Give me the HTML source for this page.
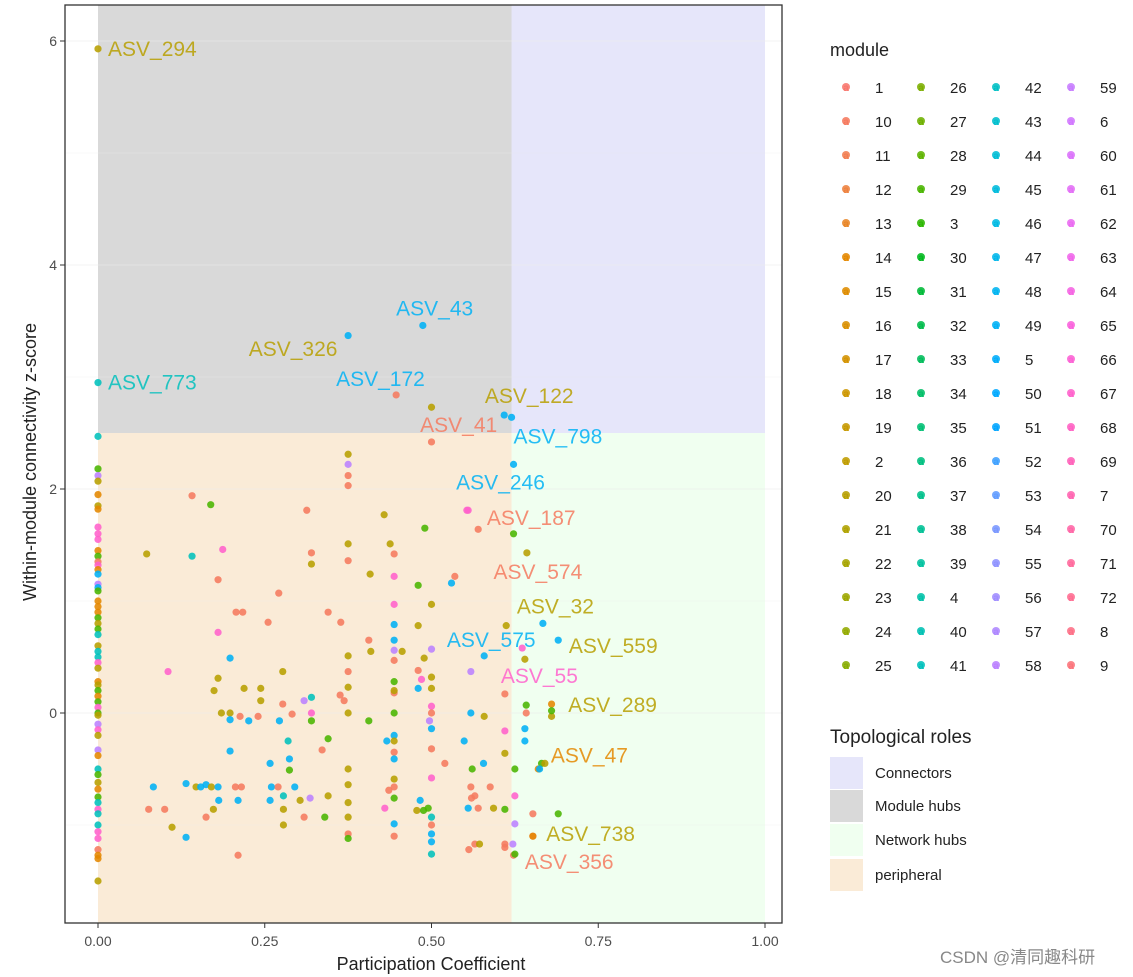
<!DOCTYPE html>
<html><head><meta charset="utf-8">
<style>
html,body{margin:0;padding:0;background:#fff;}
svg{display:block;font-family:"Liberation Sans","Noto Sans CJK SC",sans-serif;}
</style></head>
<body>
<svg id="chart" width="1133" height="977" viewBox="0 0 1133 977" xmlns="http://www.w3.org/2000/svg">
  <g id="panel"></g>
  <g id="legend"></g>
  <text x="940" y="963" font-size="17" fill="#888">CSDN @清同趣科研</text>
</svg>
<script>
// ---- data ----
const xTicks = [0, 0.25, 0.5, 0.75, 1];
const xTickLabels = ["0.00", "0.25", "0.50", "0.75", "1.00"];
const yTicks = [0, 2, 4, 6];
const yTickLabels = ["0", "2", "4", "6"];
const roleNames = ["Connectors", "Module hubs", "Network hubs", "peripheral"];
const roleFills = ["#e6e6fa", "#d9d9d9", "#f0fff0", "#faebd7"];
const pcThreshold = 0.62;
const zThreshold = 2.5;
const moduleLevels = ["1","10","11","12","13","14","15","16","17","18","19","2","20","21","22","23","24","25","26","27","28","29","3","30","31","32","33","34","35","36","37","38","39","4","40","41","42","43","44","45","46","47","48","49","5","50","51","52","53","54","55","56","57","58","59","6","60","61","62","63","64","65","66","67","68","69","7","70","71","72","8","9"];
const legendOrder = ["1","10","11","12","13","14","15","16","17","18","19","2","20","21","22","23","24","25","26","27","28","29","3","30","31","32","33","34","35","36","37","38","39","4","40","41","42","43","44","45","46","47","48","49","5","50","51","52","53","54","55","56","57","58","59","6","60","61","62","63","64","65","66","67","68","69","7","70","71","72","8","9"];
// participation coefficient, z-score, module (r=10,o=14,g=20,G=29,t=41,b=49,p=58,k=67)
const pcValues = [
0,0,0,0,0,0,0,0,0,0,0,0,0,0,0,0,0,0,0,0,0,0,0,0,0,0,0,0,0,0,0,0,0,0,0,0,0,0,0,0,0,0,0,0,0,0,0,0,0,0,0,0,0,0,0,0,0,0,0,0,0,
0.375,0.487,0.447,0.5,0.609,0.62,0.623,0.5,0.623,0.555,0.57,0.643,0.667,0.612,0.69,0.636,0.64,0.68,0.665,0.652,0.623,
0.141,0.169,0.313,0.429,0.49,0.553,0.375,0.375,0.375,0.375,0.073,0.141,0.187,0.32,0.32,0.375,0.375,0.438,0.444,0.408,0.444,0.48,0.535,0.53,0.18,0.271,0.207,0.217,0.255,0.345,0.364,0.18,0.444,0.5,0.444,0.48,0.406,0.409,0.444,0.444,0.444,0.456,0.5,0.489,0.579,0.559,0.198,0.105,0.18,0.277,0.375,0.375,0.375,0.174,0.219,0.244,0.444,0.444,0.48,0.485,0.5,0.5,0.48,0.61,
0.244,0.277,0.291,0.309,0.32,0.32,0.32,0.185,0.198,0.198,0.213,0.226,0.24,0.272,0.363,0.369,0.375,0.406,0.444,0.444,0.444,0.433,0.444,0.444,0.444,0.444,0.436,0.444,0.43,0.444,0.444,0.444,0.5,0.5,0.5,0.497,0.5,0.5,0.52,0.5,0.495,0.5,0.5,0.5,0.5,0.478,0.488,0.483,0.559,0.579,0.549,0.561,0.578,0.559,0.565,0.56,0.555,0.57,0.588,0.593,0.61,0.61,0.61,0.625,0.625,0.625,0.61,0.622,0.61,0.625,0.556,0.565,0.572,0.642,0.642,0.64,0.652,0.66,0.67,0.68,0.69,0.652,0.68,0.662,0.64,
0.083,0.076,0.1,0.111,0.132,0.132,0.147,0.154,0.162,0.17,0.18,0.162,0.173,0.181,0.198,0.206,0.215,0.21,0.21,0.258,0.258,0.26,0.27,0.285,0.287,0.287,0.295,0.278,0.278,0.278,0.303,0.309,0.318,0.336,0.345,0.345,0.34,0.375,0.375,0.375,0.375,0.375,0.375
];
const zValues = [
5.93,2.95,2.47,2.18,2.12,2.07,1.95,1.85,1.82,1.66,1.6,1.55,1.45,1.4,1.35,1.32,1.28,1.24,1.15,1.12,1.09,1.0,0.95,0.9,0.85,0.8,0.75,0.7,0.6,0.55,0.5,0.45,0.4,0.28,0.25,0.2,0.15,0.1,0.05,0,-0.02,-0.1,-0.15,-0.2,-0.33,-0.38,-0.5,-0.55,-0.62,-0.68,-0.75,-0.8,-0.86,-0.9,-1.0,-1.06,-1.12,-1.22,-1.27,-1.3,-1.5,
3.37,3.46,2.84,2.73,2.66,2.64,2.22,2.42,1.6,1.81,1.64,1.43,0.8,0.78,0.65,0.58,0.48,0.08,-0.45,-1.1,-1.27,
1.94,1.86,1.81,1.77,1.65,1.81,2.31,2.22,2.12,2.03,1.42,1.4,1.46,1.43,1.33,1.51,1.36,1.51,1.42,1.24,1.22,1.14,1.22,1.16,1.19,1.07,0.9,0.9,0.81,0.9,0.81,0.72,0.97,0.97,0.79,0.78,0.65,0.55,0.65,0.56,0.47,0.55,0.57,0.49,0.51,0.37,0.49,0.37,0.31,0.37,0.51,0.37,0.23,0.2,0.22,0.22,0.28,0.18,0.38,0.3,0.32,0.22,0.22,0.17,
0.11,0.08,-0.01,0.11,0.14,0,-0.07,0,0,-0.06,-0.03,-0.07,-0.03,-0.07,0.16,0.11,0,-0.07,0,0.2,-0.2,-0.25,-0.25,-0.35,-0.41,-0.59,-0.69,-0.66,-0.85,-0.76,-0.99,-1.1,-1.26,0.06,0,-0.07,-0.14,-0.32,-0.45,-0.58,-0.85,-0.93,-1.0,-1.08,-1.15,-0.87,-0.87,-0.78,0,-0.03,-0.25,-0.5,-0.45,-0.66,-0.74,-0.76,-0.85,-0.85,-0.66,-0.85,-0.86,-0.16,-0.36,-0.5,-0.74,-0.99,-1.17,-1.17,-1.2,-1.26,-1.22,-1.17,-1.17,0.07,0,-0.14,-0.9,-0.5,-0.45,-0.03,-0.9,-1.1,0.02,-0.5,-0.25,
-0.66,-0.86,-0.86,-1.02,-1.11,-0.63,-0.66,-0.66,-0.64,-0.66,-0.66,-0.93,-0.86,-0.78,-0.34,-0.66,-0.66,-0.78,-1.27,-0.45,-0.78,-0.66,-0.66,-0.25,-0.41,-0.51,-0.66,-0.74,-0.86,-1.0,-0.78,-0.93,-0.76,-0.33,-0.23,-0.74,-0.93,-0.5,-0.64,-0.8,-0.93,-1.08,-1.12
];
const moduleCodes = "gttGpgogokkkoGrkobpbGoooGgGtgttkgogGoGkGgpkgpotGgoGtkttkkroo"+
"gbbrgbbbrGkrgbgbkgoGr"+
"rrGrgGkgprrgtkrggrgrgkGrbrrrrrrrkkgbgrgbprgpgbpbkgggrggggGrrkggb"+
"rgrrptkGggbrbrbrrgGGgbbgrbgrrkGbrtkrpbrrkGtrbbgGbbgbGbrrrbrrgGkgGkprprGrrgGrbroggGoG"+
"bbbrrgbbgbbgbrgbbrrbrbbbrtbGbtgggrprGgGggggrG";
const codeToModule = {r:"10",o:"14",g:"20",G:"29",t:"41",b:"49",p:"58",k:"67"};
const labelTexts = ["ASV_294","ASV_773","ASV_326","ASV_43","ASV_172","ASV_122","ASV_41","ASV_798","ASV_246","ASV_187","ASV_574","ASV_32","ASV_559","ASV_575","ASV_55","ASV_289","ASV_47","ASV_738","ASV_356"];
const labelPc = [0.015,0.015,0.226,0.447,0.357,0.58,0.483,0.623,0.537,0.583,0.593,0.628,0.706,0.523,0.604,0.705,0.679,0.672,0.64];
const labelZ = [5.93,2.95,3.25,3.61,2.98,2.83,2.57,2.47,2.06,1.74,1.26,0.95,0.60,0.65,0.33,0.07,-0.38,-1.08,-1.33];
const labelCodes = "gtgbbgrbbrrggbkgogr";

// ---- scales ----
const X0 = 98, X1 = 765, Y0 = 713, PY = 112;
const PL = 65, PR = 782, PT = 5, PB = 923;
function xs(v){ return X0 + v*(X1-X0); }
function ys(v){ return Y0 - v*PY; }
function hcl(h,c,l){
  const un=0.1978398, vn=0.4683363;
  const Y = Math.pow((l+16)/116,3);
  const hr=h*Math.PI/180, u=c*Math.cos(hr), v=c*Math.sin(hr);
  const up=u/(13*l)+un, vp=v/(13*l)+vn;
  const X = 9*Y*up/(4*vp), Z = (-X/3) - 5*Y + 3*Y/vp;
  let r= 3.2404542*X-1.5371385*Y-0.4985314*Z;
  let g=-0.9692660*X+1.8760108*Y+0.0415560*Z;
  let b= 0.0556434*X-0.2040259*Y+1.0572252*Z;
  const gm=t=>{t=t<=0.0031308?12.92*t:1.055*Math.pow(t,1/2.4)-0.055;return Math.round(Math.max(0,Math.min(1,t))*255);};
  return "rgb("+gm(r)+","+gm(g)+","+gm(b)+")";
}
function modColor(m){ const i=moduleLevels.indexOf(m); return hcl(15+i*360/moduleLevels.length,100,65); }
const NS="http://www.w3.org/2000/svg";
function mk(tag, attrs, parent){ const e=document.createElementNS(NS,tag); for(const k in attrs) e.setAttribute(k,attrs[k]); parent.appendChild(e); return e; }

const panel=document.getElementById('panel');
const regions=[[pcThreshold,1,zThreshold,null],[0,pcThreshold,zThreshold,null],[pcThreshold,1,null,zThreshold],[0,pcThreshold,null,zThreshold]];
regions.forEach((r,i)=>{
  const yTop = r[3]===null ? PT : ys(r[3]);
  const yBot = r[2]===null ? PB : ys(r[2]);
  const el=mk('rect',{x:xs(r[0]),y:yTop,width:xs(r[1])-xs(r[0]),height:yBot-yTop,fill:roleFills[i]},panel);
  
  
});
[-1,0,1,2,3,4,5,6].forEach(v=>{
  const g=mk('line',{x1:PL,x2:PR,y1:ys(v),y2:ys(v),stroke:'#ebebeb','stroke-width':v%2===0?1:0.6,'stroke-opacity':0.6},panel);
  
  
});
for(let i=0;i<pcValues.length;i++){
  const m=codeToModule[moduleCodes[i]]||"10";
  const c=mk('circle',{cx:xs(pcValues[i]),cy:ys(zValues[i]),r:3.6,fill:modColor(m),'fill-opacity':0.88},panel);
  
  
}
for(let i=0;i<labelTexts.length;i++){
  const m=codeToModule[labelCodes[i]];
  const t=mk('text',{x:xs(labelPc[i]),y:ys(labelZ[i])+7,'font-size':21,fill:modColor(m),'fill-opacity':0.85},panel);
  t.textContent=labelTexts[i];
  
  
}
const bd=mk('rect',{x:PL,y:PT,width:PR-PL,height:PB-PT,fill:'none',stroke:'#333','stroke-width':1.3},panel);


xTicks.forEach((v,i)=>{
  const tk=mk('line',{x1:xs(v),x2:xs(v),y1:PB,y2:PB+5,stroke:'#333'},panel);
  
  
  const t=mk('text',{x:xs(v),y:PB+23,'font-size':14,fill:'#4d4d4d','text-anchor':'middle'},panel);
  t.textContent=xTickLabels[i];
  
  
});
yTicks.forEach((v,i)=>{
  const tk=mk('line',{x1:PL-5,x2:PL,y1:ys(v),y2:ys(v),stroke:'#333'},panel);
  
  
  const t=mk('text',{x:PL-8,y:ys(v)+5,'font-size':14,fill:'#4d4d4d','text-anchor':'end'},panel);
  t.textContent=yTickLabels[i];
  
  
});
const xt=mk('text',{x:431,y:970,'font-size':18,fill:'#222','text-anchor':'middle'},panel);
xt.textContent='Participation Coefficient';


const yt=mk('text',{x:0,y:0,'font-size':18,fill:'#222','text-anchor':'middle',transform:'translate(36,462) rotate(-90)'},panel);
yt.textContent='Within-module connectivity z-score';



const lg=document.getElementById('legend');
const lt=mk('text',{x:830,y:56,'font-size':18,fill:'#222'},lg);
lt.textContent='module';


legendOrder.forEach((m,i)=>{
  const col=Math.floor(i/18), row=i%18;
  const cx=846+col*75, cy=87+row*34;
  const g=mk('g',{},lg);
  
  
  mk('circle',{cx:cx,cy:cy,r:4,fill:modColor(m),'fill-opacity':0.88},g);
  const a=mk('text',{x:cx,y:cy+4,'font-size':10,fill:modColor(m),'text-anchor':'middle','font-weight':'bold'},g);
  a.textContent='a';
  const t=mk('text',{x:cx+29,y:cy+6,'font-size':15,fill:'#222'},g);
  t.textContent=m;
});
const rt=mk('text',{x:830,y:743,'font-size':19,fill:'#222'},lg);
rt.textContent='Topological roles';


roleNames.forEach((n,i)=>{
  const cy=[773,806,840,875][i];
  const g=mk('g',{},lg);
  
  
  mk('rect',{x:830,y:cy-16,width:33,height:32,fill:roleFills[i]},g);
  const t=mk('text',{x:875,y:cy+5,'font-size':15,fill:'#222'},g);
  t.textContent=n;
});
</script>
</body></html>
